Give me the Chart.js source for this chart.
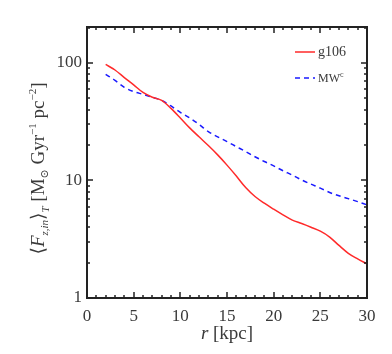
<!DOCTYPE html>
<html lang="en">
<head>
    <meta charset="UTF-8">
    <title>Inflow flux vs radius</title>
    <script src="https://cdn.jsdelivr.net/npm/chart.js"></script>
    <style>
        body { margin: 0; background: #fff; }
        canvas { display: block; }
    </style>
    <script>
        // Radius in kpc
        const radius = [2, 3, 4, 5, 6, 7, 8, 9, 10, 11, 12, 13, 14, 15, 16, 17, 18, 19, 20, 21, 22, 23, 24, 25, 26, 27, 28, 29, 30];
        // g106 run (solid red)
        const g106 = [97, 87, 75, 65, 56, 51, 48, 41, 34, 28, 23.5, 19.8, 16.5, 13.5, 10.9, 8.7, 7.3, 6.4, 5.7, 5.1, 4.6, 4.3, 4.0, 3.7, 3.3, 2.8, 2.4, 2.15, 1.95];
        // MW^c run (dashed blue)
        const mwc = [80, 71, 62, 57, 54, 51, 48, 43, 38, 34, 30, 26, 23.5, 21.4, 19.4, 17.6, 15.9, 14.5, 13.3, 12.1, 11.1, 10.1, 9.3, 8.6, 7.9, 7.4, 7.0, 6.6, 6.2];
        const xTicks = [0, 5, 10, 15, 20, 25, 30];
        const yTicks = [1, 10, 100];
        const seriesNames = ['g106', 'MW'];

        const textColor = '#3a3a3a';
        const serif = '"Liberation Serif", "DejaVu Serif", serif';

        // draw a run of text pieces: [text, size, dy, italic]
        function drawRuns(ctx, runs, x, y) {
            let cx = x;
            runs.forEach(r => {
                ctx.font = (r[3] ? 'italic ' : '') + r[1] + 'px ' + serif;
                ctx.fillText(r[0], cx, y + r[2]);
                cx += ctx.measureText(r[0]).width;
            });
            return cx - x;
        }
        function runsWidth(ctx, runs) {
            let w = 0;
            runs.forEach(r => {
                ctx.font = (r[3] ? 'italic ' : '') + r[1] + 'px ' + serif;
                w += ctx.measureText(r[0]).width;
            });
            return w;
        }

        // frame, inward ticks, axis titles and legend
        const framePlugin = {
            id: 'frame',
            afterDraw(chart) {
                const ctx = chart.ctx;
                const a = chart.chartArea;
                const xs = chart.scales.x, ys = chart.scales.y;
                ctx.save();
                ctx.strokeStyle = '#222';
                ctx.lineWidth = 2;
                ctx.strokeRect(a.left, a.top, a.right - a.left, a.bottom - a.top);

                ctx.lineWidth = 1.5;
                ctx.beginPath();
                for (let v = 0; v <= 30; v++) {
                    const px = Math.round(xs.getPixelForValue(v));
                    const len = v % 5 === 0 ? 6 : 3;
                    ctx.moveTo(px, a.bottom); ctx.lineTo(px, a.bottom - len);
                    ctx.moveTo(px, a.top); ctx.lineTo(px, a.top + len);
                }
                for (let d = 1; d <= 100; d *= 10) {
                    for (let m = 1; m <= 9; m++) {
                        const v = d * m;
                        if (v > ys.max) break;
                        const py = Math.round(ys.getPixelForValue(v));
                        const len = m === 1 ? 6 : 3;
                        ctx.moveTo(a.left, py); ctx.lineTo(a.left + len, py);
                        ctx.moveTo(a.right, py); ctx.lineTo(a.right - len, py);
                    }
                }
                ctx.stroke();

                ctx.fillStyle = textColor;
                ctx.textBaseline = 'alphabetic';
                ctx.textAlign = 'left';

                // x title
                const xr = [['r', 19, 0, true], [' [kpc]', 19, 0, false]];
                const xw = runsWidth(ctx, xr);
                drawRuns(ctx, xr, (a.left + a.right) / 2 - xw / 2, 339);

                // y title, rotated
                const yr = [
                    ['\u27E8', 19, 0, false], ['F', 19, 0, true], ['z,in', 11, 4, true],
                    ['\u27E9', 19, 0, false], ['T', 11, 5, true],
                    [' [M', 19, 0, false], ['\u2299', 11, 4, false],
                    [' Gyr', 19, 0, false], ['\u22121', 11, -8, false],
                    [' pc', 19, 0, false], ['\u22122', 11, -8, false], [']', 19, 0, false]
                ];
                const yw = runsWidth(ctx, yr);
                ctx.save();
                ctx.translate(44, (a.top + a.bottom) / 2 + 6);
                ctx.rotate(-Math.PI / 2);
                drawRuns(ctx, yr, -yw / 2, 0);
                ctx.restore();

                // legend
                const legY = [52, 78];
                chart.data.datasets.forEach((ds, i) => {
                    ctx.strokeStyle = ds.borderColor;
                    ctx.lineWidth = ds.borderWidth;
                    ctx.setLineDash(ds.borderDash || []);
                    ctx.beginPath();
                    ctx.moveTo(295, legY[i]);
                    ctx.lineTo(315, legY[i]);
                    ctx.stroke();
                    ctx.setLineDash([]);
                    ctx.fillStyle = textColor;
                    if (i === 0) {
                        drawRuns(ctx, [[seriesNames[0], 14, 0, false]], 318, legY[i] + 4);
                    } else {
                        drawRuns(ctx, [[seriesNames[1], 12, 0, false], ['c', 8, -5, false]], 318, legY[i] + 4);
                    }
                });
                ctx.restore();
            }
        };

        window.onload = function () {
            const ctx = document.getElementById('fluxChart').getContext('2d');
            new Chart(ctx, {
                type: 'line',
                data: {
                    datasets: [{
                        label: 'g106',
                        data: radius.map((r, i) => ({ x: r, y: g106[i] })),
                        borderColor: '#ff2a2a',
                        borderWidth: 1.5,
                        pointRadius: 0,
                        cubicInterpolationMode: 'monotone',
                        fill: false
                    }, {
                        label: 'MWc',
                        data: radius.map((r, i) => ({ x: r, y: mwc[i] })),
                        borderColor: '#1a1aff',
                        borderWidth: 1.5,
                        borderDash: [5, 4],
                        pointRadius: 0,
                        cubicInterpolationMode: 'monotone',
                        fill: false
                    }]
                },
                options: {
                    responsive: false,
                    animation: false,
                    layout: { padding: { left: 0, top: 27, right: 25, bottom: 0 } },
                    plugins: { legend: { display: false }, tooltip: { enabled: false } },
                    scales: {
                        x: {
                            type: 'linear',
                            min: 0, max: 30,
                            grid: { display: false, drawTicks: false },
                            border: { display: false },
                            afterBuildTicks: s => { s.ticks = xTicks.map(v => ({ value: v })); },
                            afterFit: s => { s.height = 56; },
                            ticks: {
                                padding: 8,
                                color: textColor,
                                font: { family: serif, size: 17 },
                                maxRotation: 0
                            }
                        },
                        y: {
                            type: 'logarithmic',
                            min: 1, max: 202,
                            grid: { display: false, drawTicks: false },
                            border: { display: false },
                            afterBuildTicks: s => { s.ticks = yTicks.map(v => ({ value: v })); },
                            afterFit: s => { s.width = 87; },
                            ticks: {
                                padding: 5,
                                color: textColor,
                                font: { family: serif, size: 17 },
                                callback: v => String(v)
                            }
                        }
                    }
                },
                plugins: [framePlugin]
            });
        };
    </script>
</head>
<body>
    <canvas id="fluxChart" width="392" height="354"></canvas>
</body>
</html>
